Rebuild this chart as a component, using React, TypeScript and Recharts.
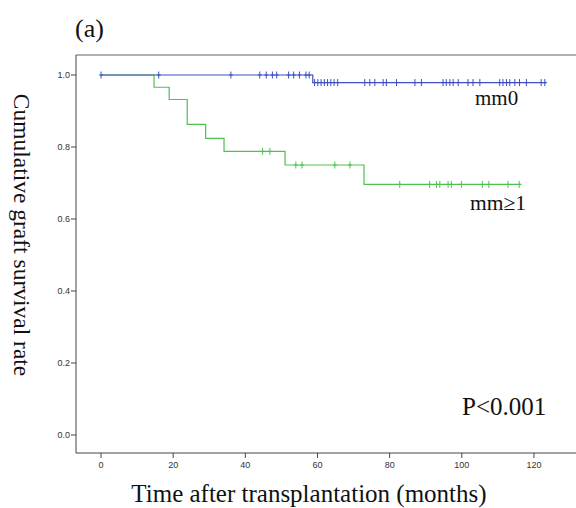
import {
  ComposedChart,
  Line,
  Scatter,
  XAxis,
  YAxis,
  ReferenceLine,
} from 'recharts'

// step points (event times, months) and survival
const mm0Times = [0, 58.7, 123.5]
const mm0Surv = [1, 0.979, 0.979]
const mm0Censor = [
  0, 16, 36, 44, 45.8, 47.5, 48.7, 52, 53.4, 55, 56.8, 57.7,
  59.2, 60.1, 61, 61.9, 62.8, 63.7, 64.6, 65.6,
  73.1, 74.5, 75.9, 78.2, 79.1, 81.9, 87, 88.8,
  94.8, 95.7, 96.7, 97.6, 99, 101.7, 103.1, 105,
  110.5, 111.4, 112.4, 113.3, 114.7, 116, 117.9, 122, 123,
]

const mm1Times = [0, 14.7, 18.9, 23.9, 29, 34.1, 51, 72.9, 116.5]
const mm1Surv = [1, 0.966, 0.932, 0.863, 0.824, 0.788, 0.75, 0.696, 0.696]
const mm1Censor = [
  44.8, 46.8, 54, 55.7, 64.8, 69, 82.8, 91.1, 93, 93.9, 96.2, 97.1, 99.9,
  105.7, 107.5, 112.8, 115.9,
]

const xTicks = [0, 20, 40, 60, 80, 100, 120]
const yTicks = [0, 0.2, 0.4, 0.6, 0.8, 1.0]

const BLUE = '#3d4fc2'
const GREEN = '#4cc24f'

const steps = (times: number[], surv: number[]) =>
  times.map((t, i) => ({ t, s: surv[i] }))

// censor mark sits on the curve at that time
const censorPoints = (cens: number[], times: number[], surv: number[]) =>
  cens.map((t) => {
    let s = surv[0]
    times.forEach((et, i) => {
      if (et <= t) s = surv[i]
    })
    return { t, s }
  })

function Plus(props: any) {
  const { cx, cy, fill } = props
  if (cx == null || cy == null) return null
  return (
    <path
      d={`M${cx},${cy - 3.5}v7M${cx - 2},${cy}h4`}
      stroke={fill}
      strokeWidth={1}
      fill="none"
    />
  )
}

const serif = '"Liberation Serif", "Times New Roman", serif'

export default function App() {
  const mm0Line = steps(mm0Times, mm0Surv)
  const mm1Line = steps(mm1Times, mm1Surv)
  const mm0Marks = censorPoints(mm0Censor, mm0Times, mm0Surv)
  const mm1Marks = censorPoints(mm1Censor, mm1Times, mm1Surv)

  const tick = { fontSize: 9, fill: '#333', fontFamily: '"Liberation Sans", Arial, sans-serif' }

  return (
    <div style={{ position: 'fixed', left: 0, top: 0, width: 576, height: 508, background: '#fff' }}>
      <ComposedChart
        width={576}
        height={508}
        margin={{ top: 55, right: 0, bottom: 0, left: 0 }}
      >
        <XAxis
          dataKey="t"
          type="number"
          domain={[-6.93, 131.65]}
          ticks={xTicks}
          allowDataOverflow
          height={55}
          tickSize={5}
          tickMargin={4}
          tick={tick}
          stroke="#444"
          tickLine={{ stroke: '#444' }}
        />
        <YAxis
          type="number"
          domain={[-0.05, 1.0556]}
          ticks={yTicks}
          allowDataOverflow
          width={76}
          tickSize={5}
          tickMargin={1}
          tick={tick}
          tickFormatter={(v: number) => v.toFixed(1)}
          stroke="#444"
          tickLine={{ stroke: '#444' }}
        />
        <ReferenceLine y={1.0556} stroke="#999" strokeWidth={1.5} ifOverflow="visible" />
        <Line
          data={mm1Line}
          dataKey="s"
          type="stepAfter"
          stroke={GREEN}
          strokeWidth={1.2}
          dot={false}
          isAnimationActive={false}
        />
        <Line
          data={mm0Line}
          dataKey="s"
          type="stepAfter"
          stroke={BLUE}
          strokeWidth={1.2}
          dot={false}
          isAnimationActive={false}
        />
        <Scatter data={mm1Marks} dataKey="s" fill={GREEN} shape={<Plus />} isAnimationActive={false} />
        <Scatter data={mm0Marks} dataKey="s" fill={BLUE} shape={<Plus />} isAnimationActive={false} />
      </ComposedChart>
      <svg
        width={576}
        height={508}
        style={{ position: 'absolute', left: 0, top: 0, pointerEvents: 'none' }}
        fontFamily={serif}
        fill="#111"
      >
        <text x={75} y={37} fontSize={26}>(a)</text>
        <text x={475} y={105} fontSize={21}>mm0</text>
        <text x={470} y={210} fontSize={21.5}>mm≥1</text>
        <text x={462} y={415} fontSize={25}>P&lt;0.001</text>
        <text x={309} y={502} fontSize={25} textAnchor="middle">
          Time after transplantation (months)
        </text>
        <text
          x={0}
          y={0}
          fontSize={23.5}
          textAnchor="middle"
          transform="translate(14 235) rotate(90)"
        >
          Cumulative graft survival rate
        </text>
      </svg>
    </div>
  )
}
